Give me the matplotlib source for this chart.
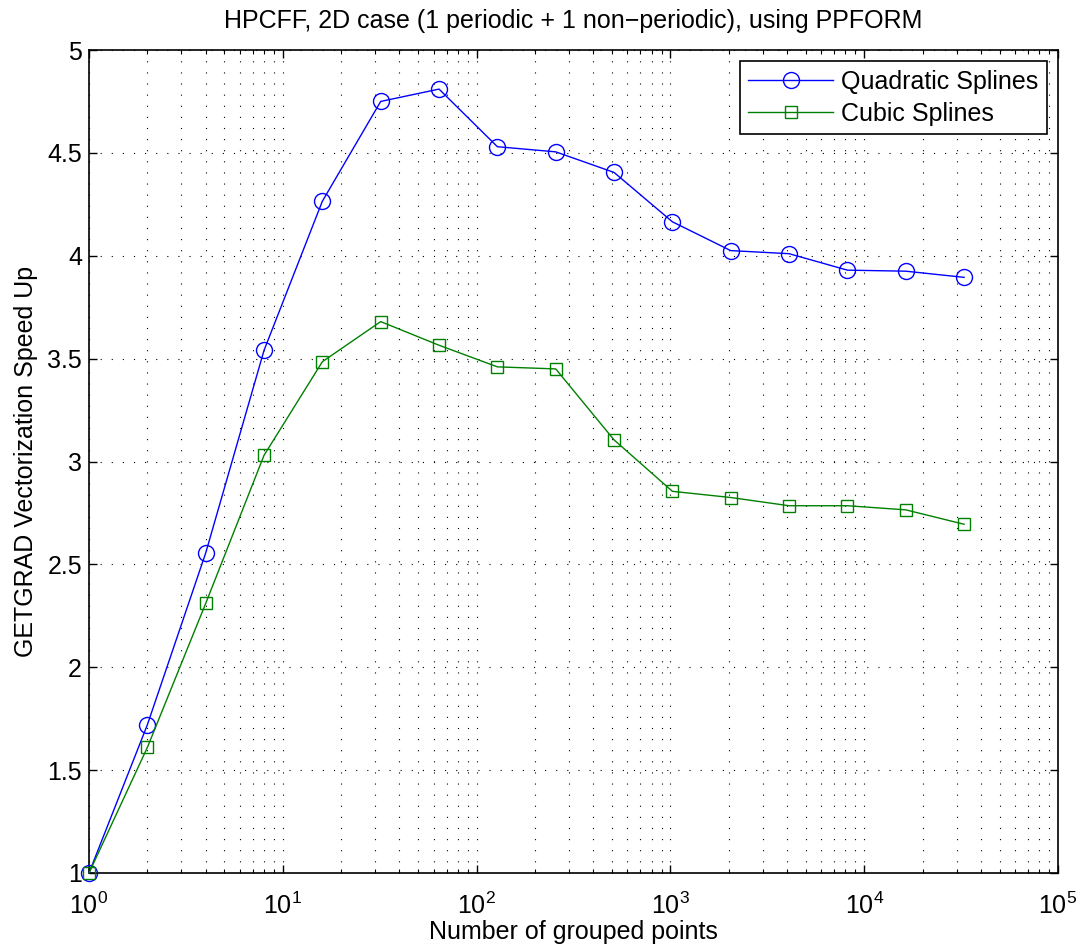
import matplotlib
matplotlib.use("Agg")
import matplotlib.pyplot as plt
from matplotlib.ticker import LogLocator, NullFormatter

plt.rcParams['font.family'] = ['Liberation Sans', 'DejaVu Sans']
plt.rcParams['mathtext.fontset'] = 'custom'
plt.rcParams['mathtext.rm'] = 'Liberation Sans'
plt.rcParams['mathtext.it'] = 'Liberation Sans'
plt.rcParams['mathtext.default'] = 'regular'

x_points = [1, 2, 4, 8, 16, 32, 64, 128, 256, 512, 1024, 2048, 4096, 8192, 16384, 32768]
quadratic = [1.0, 1.72, 2.555, 3.54, 4.265, 4.75, 4.81, 4.53, 4.505, 4.405, 4.165, 4.025, 4.01, 3.93, 3.925, 3.895]
cubic = [1.0, 1.61, 2.31, 3.03, 3.485, 3.68, 3.565, 3.46, 3.45, 3.105, 2.855, 2.825, 2.785, 2.785, 2.765, 2.695]
series_labels = ["Quadratic Splines", "Cubic Splines"]
y_ticks = [1, 1.5, 2, 2.5, 3, 3.5, 4, 4.5, 5]
y_tick_labels = ["1", "1.5", "2", "2.5", "3", "3.5", "4", "4.5", "5"]

FS = 18

fig = plt.figure(figsize=(10.84, 9.5), dpi=100)
ax = fig.add_axes([89/1084, 1 - 873/950, (1058-89)/1084, (873-50)/950])

ax.plot(x_points, quadratic, '-o', color=(0, 0, 1), mfc='none', mec=(0, 0, 1),
        markersize=11.5, lw=1.0, mew=1.0, label=series_labels[0], clip_on=False, zorder=3)
ax.plot(x_points, cubic, '-s', color=(0, 0.5, 0), mfc='none', mec=(0, 0.5, 0),
        markersize=9.3, lw=1.0, mew=1.0, label=series_labels[1], clip_on=False, zorder=3)

ax.set_xscale('log')
ax.set_xlim(1, 1e5)
ax.set_ylim(1, 5)
ax.set_yticks(y_ticks)
ax.set_yticklabels(y_tick_labels)
ax.xaxis.set_major_locator(LogLocator(base=10, numticks=10))
ax.xaxis.set_minor_locator(LogLocator(base=10, subs=range(2, 10), numticks=100))
ax.xaxis.set_minor_formatter(NullFormatter())

ax.grid(True, which='major', axis='both', linestyle=(0, (1, 9)), color='black', lw=0.8)
ax.grid(True, which='minor', axis='x', linestyle=(0, (1, 9)), color='black', lw=0.8)

ax.tick_params(axis='both', which='major', direction='in', length=6, width=1,
               labelsize=FS, top=True, right=True)
ax.tick_params(axis='y', which='major', pad=5)
ax.tick_params(axis='x', which='major', pad=14)
ax.tick_params(axis='x', which='minor', direction='in', length=3, width=0.8, top=True)
for s in ax.spines.values():
    s.set_linewidth(1.2)

ax.set_title("HPCFF, 2D case (1 periodic + 1 non\u2212periodic), using PPFORM", fontsize=FS, pad=16)
ax.set_xlabel("Number of grouped points", fontsize=FS, labelpad=1)
ax.set_ylabel("GETGRAD Vectorization Speed Up", fontsize=FS, labelpad=7)

leg = ax.legend(loc='upper right', fontsize=FS, fancybox=False, framealpha=1,
                edgecolor='black', borderaxespad=0.45, handlelength=3.4,
                handletextpad=0.3, borderpad=0.35, labelspacing=0.3)
leg.get_frame().set_linewidth(1.2)

fig.savefig("out.png", dpi=100)
